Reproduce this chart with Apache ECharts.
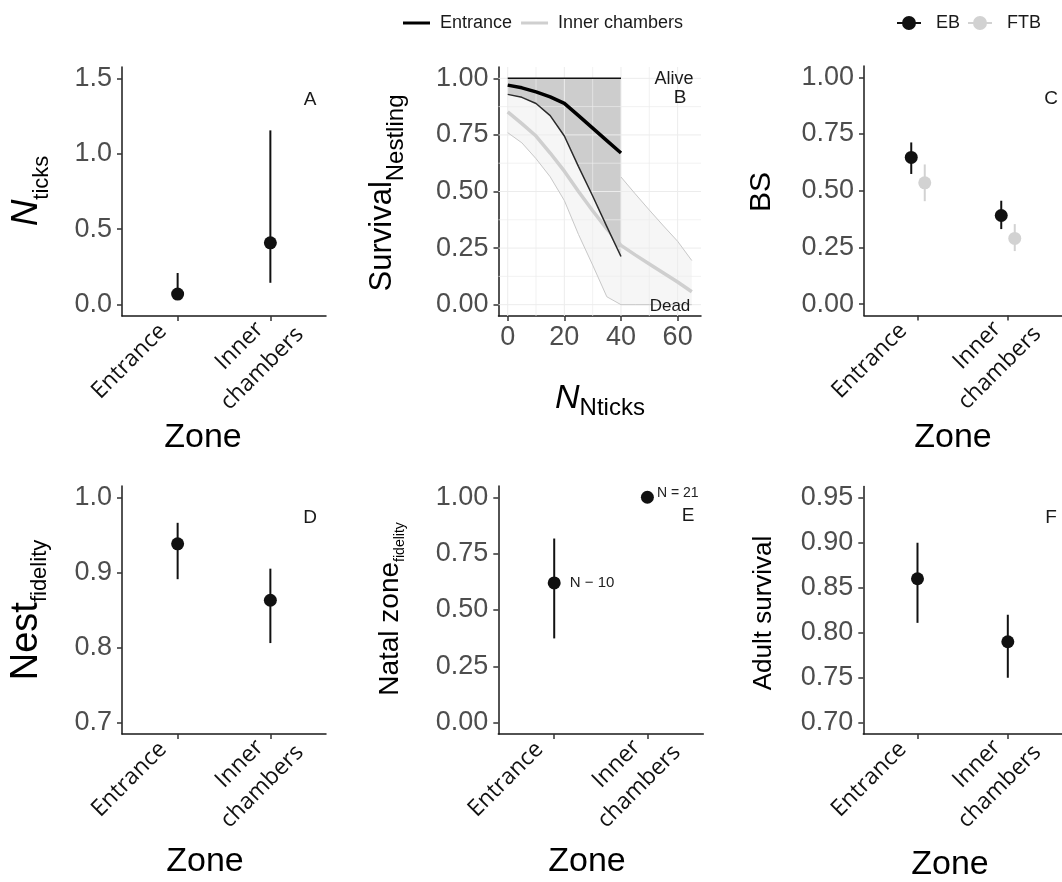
<!DOCTYPE html>
<html><head><meta charset="utf-8">
<script src="https://cdn.jsdelivr.net/npm/echarts@6/dist/echarts.min.js"></script>
<style>html,body{margin:0;padding:0;background:#fff}#c{width:1062px;height:882px}</style>
</head><body><div id="c"></div>
<script>
// ---------------- data ----------------
const zones = ['Entrance', 'Inner\nchambers'];

// A: number of ticks
const ticksMean = [0.07, 0.41];
const ticksLow  = [0.04, 0.145];
const ticksHigh = [0.21, 1.155];

// B: nestling survival vs number of ticks
const bX      = [0, 5, 10, 15, 20, 25, 30, 35, 40, 45, 50, 55, 60, 65];
const entX    = [0, 5, 10, 15, 20, 25, 30, 35, 40];
const entMean = [0.970, 0.958, 0.940, 0.918, 0.889, 0.835, 0.780, 0.725, 0.670];
const entLow  = [0.929, 0.916, 0.889, 0.835, 0.745, 0.610, 0.480, 0.345, 0.213];
const entHigh = [1, 1, 1, 1, 1, 1, 1, 1, 1];
const innMean = [0.852, 0.800, 0.745, 0.670, 0.590, 0.500, 0.415, 0.335, 0.262, 0.220, 0.180, 0.140, 0.100, 0.057];
const innLow  = [0.760, 0.715, 0.645, 0.565, 0.460, 0.310, 0.175, 0.035, 0, 0, 0, 0, 0, 0];
const innHigh = [null, null, null, null, null, null, null, null, 0.564, 0.490, 0.418, 0.348, 0.280, 0.195];

// C: breeding success
const groups   = ['EB', 'FTB'];
const bsEB     = [0.647, 0.391];
const bsEBLow  = [0.574, 0.331];
const bsEBHigh = [0.713, 0.456];
const bsFTB     = [0.535, 0.290];
const bsFTBLow  = [0.454, 0.234];
const bsFTBHigh = [0.616, 0.353];

// D: nest fidelity
const nestMean = [0.938, 0.863];
const nestLow  = [0.891, 0.806];
const nestHigh = [0.966, 0.905];

// E: natal zone fidelity
const natalMean = [0.62, 1.00];
const natalLow  = [0.374, 1.00];
const natalHigh = [0.817, 1.00];
const natalN    = ['N \u2212 10', 'N = 21'];

// F: adult survival
const adultMean = [0.86, 0.79];
const adultLow  = [0.811, 0.75];
const adultHigh = [0.90, 0.82];

// tick labels
const ticksA    = [0, 0.5, 1.0, 1.5];
const ticksProb = [0, 0.25, 0.5, 0.75, 1.0];
const ticksD    = [0.7, 0.8, 0.9, 1.0];
const ticksF    = [0.70, 0.75, 0.80, 0.85, 0.90, 0.95];
const ticksBx   = [0, 20, 40, 60];
const bGridX    = [0, 10, 20, 30, 40, 50, 60];
const bGridY    = [0, 0.125, 0.25, 0.375, 0.5, 0.625, 0.75, 0.875, 1.0];

// ---------------- helpers ----------------
const FONT = '"Liberation Sans", Arial, sans-serif';
const CATFONT = '"Open Sans", sans-serif';
const BLACK = '#111';
const LIGHT = '#d2d2d2';
const dodge = 0.075;
const bXMin = -3.25, bXMax = 68.25, bYMin = -0.05, bYMax = 1.05;

const mctx = document.createElement('canvas').getContext('2d');
function tw(t, font) { mctx.font = font; return mctx.measureText(t).width; }

const catSize = 23;
const catLines = zones.map(z => z.split('\n'));
const catBlockW = catLines.map(ls => Math.max.apply(null, ls.map(l => tw(l, catSize + 'px ' + CATFONT))));

function catX(gi) {
  return {
    gridIndex: gi, type: 'value', min: 0.4, max: 2.6,
    axisLine: {show: true, onZero: false, lineStyle: {color: '#1a1a1a', width: 1.5}},
    axisTick: {show: true, customValues: [1, 2], length: 5, lineStyle: {color: '#333', width: 1.5}},
    axisLabel: {show: true, customValues: [1, 2],
      formatter: v => {
        const i = Math.round(v) - 1;
        const body = catLines[i].map(l => '{c' + i + '|' + l + '}').join('\n');
        return catLines[i].length > 1 ? '{s| }\n' + body : body;
      },
      rich: {
        s:  {fontSize: 4, lineHeight: 35},
        c0: {fontFamily: CATFONT, fontSize: catSize, color: '#111', lineHeight: 32, width: catBlockW[0] + 29, align: 'left'},
        c1: {fontFamily: CATFONT, fontSize: catSize, color: '#111', lineHeight: 32, width: catBlockW[1], align: 'center'}
      },
      rotate: 45, margin: -14.6, padding: [16.4, 0, 0, 0]},
    splitLine: {show: false}
  };
}
function valY(gi, min, max, ticks, digits) {
  return {
    gridIndex: gi, type: 'value', min: min, max: max,
    axisLine: {show: true, onZero: false, lineStyle: {color: '#1a1a1a', width: 1.5}},
    axisTick: {show: true, customValues: ticks, length: 5, lineStyle: {color: '#333', width: 1.5}},
    axisLabel: {show: true, customValues: ticks, formatter: v => Number(v).toFixed(digits),
      fontFamily: FONT, fontSize: 27, color: '#4d4d4d', margin: 10},
    splitLine: {show: false}
  };
}
function errRender(params, api) {
  const x = api.value(0), lo = api.value(1), hi = api.value(2);
  const p1 = api.coord([x, lo]), p2 = api.coord([x, hi]);
  return {type: 'line', shape: {x1: p1[0], y1: p1[1], x2: p2[0], y2: p2[1]},
    style: {stroke: api.visual('color'), lineWidth: 2}};
}
function errSeries(gi, name, color, xs, lo, hi) {
  return {type: 'custom', name: name, xAxisIndex: gi, yAxisIndex: gi, renderItem: errRender,
    itemStyle: {color: color}, encode: {x: 0, y: [1, 2]}, z: 3,
    data: xs.map((x, i) => [x, lo[i], hi[i]])};
}
function ptSeries(gi, name, color, xs, ys, extra) {
  return Object.assign({type: 'scatter', name: name, xAxisIndex: gi, yAxisIndex: gi, symbolSize: 13,
    itemStyle: {color: color, opacity: 1}, z: 4, data: xs.map((x, i) => [x, ys[i]])}, extra || {});
}
function ribbon(xs, lo, hi, fill, z, name) {
  return {type: 'custom', name: name, xAxisIndex: 1, yAxisIndex: 1, z: z, silent: true, data: [[0, 0]],
    renderItem: function (params, api) {
      const up = [], dn = [];
      xs.forEach((x, i) => {
        up.push(api.coord([x, hi[i] == null ? 1 : hi[i]]));
        dn.push(api.coord([x, lo[i]]));
      });
      return {type: 'polygon', shape: {points: up.concat(dn.reverse())}, style: {fill: fill}};
    }};
}
function lineS(name, xs, ys, color, width, z) {
  const data = [];
  xs.forEach((x, i) => { if (ys[i] != null) data.push([x, ys[i]]); });
  return {type: 'line', name: name, xAxisIndex: 1, yAxisIndex: 1, symbol: 'none', z: z,
    lineStyle: {color: color, width: width}, itemStyle: {color: color}, data: data};
}

// axis titles with subscripts
function title(o) {
  const mf = (o.italic ? 'italic ' : '') + o.ms + 'px ' + FONT;
  const sf = o.ss + 'px ' + FONT;
  const wm = tw(o.main, mf), ws = o.sub ? tw(o.sub, sf) : 0;
  const total = wm + ws;
  const els = [];
  if (!o.vertical) {
    const x0 = o.c - total / 2;
    els.push({type: 'text', x: x0, y: o.base - 0.35 * o.ms, z: 100,
      style: {text: o.main, font: mf, fill: '#000', align: 'left', verticalAlign: 'middle'}});
    if (o.sub) els.push({type: 'text', x: x0 + wm, y: o.base + o.drop - 0.35 * o.ss, z: 100,
      style: {text: o.sub, font: sf, fill: '#000', align: 'left', verticalAlign: 'middle'}});
  } else {
    const y0 = o.c + total / 2;
    els.push({type: 'text', x: o.base - 0.35 * o.ms, y: y0, rotation: Math.PI / 2, z: 100,
      style: {text: o.main, font: mf, fill: '#000', align: 'left', verticalAlign: 'middle'}});
    if (o.sub) els.push({type: 'text', x: o.base + o.drop - 0.35 * o.ss, y: y0 - wm, rotation: Math.PI / 2, z: 100,
      style: {text: o.sub, font: sf, fill: '#000', align: 'left', verticalAlign: 'middle'}});
  }
  return els;
}
function txt(x, y, t, size, color) {
  return {type: 'text', x: x, y: y, z: 100,
    style: {text: t, font: size + 'px ' + FONT, fill: color || '#1a1a1a', align: 'center', verticalAlign: 'middle'}};
}

// ---------------- chart ----------------
const chart = echarts.init(document.getElementById('c'), null, {renderer: 'canvas'});
const catPos = [1, 2];

const graphics = [].concat(
  title({vertical: true, main: 'N', sub: 'ticks', italic: true, ms: 37, ss: 22, base: 40, drop: 10, c: 191}),
  title({vertical: true, main: 'Survival', sub: 'Nestling', ms: 31, ss: 24, base: 393, drop: 12, c: 193}),
  title({vertical: false, main: 'N', sub: 'Nticks', italic: true, ms: 34, ss: 24, base: 410, drop: 7, c: 600}),
  title({vertical: true, main: 'BS', ms: 30, base: 772, c: 192}),
  title({vertical: true, main: 'Nest', sub: 'fidelity', ms: 38, ss: 22, base: 40, drop: 8, c: 610}),
  title({vertical: true, main: 'Natal zone', sub: 'fidelity', ms: 28, ss: 14, base: 400, drop: 5, c: 609}),
  title({vertical: true, main: 'Adult survival', ms: 26, base: 773, c: 613}),
  [
    txt(203, 438, 'Zone', 34, '#000'), txt(953, 438, 'Zone', 34, '#000'),
    txt(205, 862, 'Zone', 34, '#000'), txt(587, 862, 'Zone', 34, '#000'), txt(950, 865, 'Zone', 34, '#000'),
    txt(310, 100, 'A', 19), txt(680, 98, 'B', 19), txt(1051, 99, 'C', 19),
    txt(310, 518, 'D', 19), txt(688, 516, 'E', 19), txt(1051, 518, 'F', 19),
    txt(674, 79, 'Alive', 18), txt(670, 306, 'Dead', 17)
  ]
);

const option = {
  animation: false,
  backgroundColor: '#fff',
  textStyle: {fontFamily: FONT},
  legend: [
    {left: 398, top: 9, itemWidth: 27, itemHeight: 3, itemGap: 9, selectedMode: false,
      textStyle: {fontFamily: FONT, fontSize: 18, color: '#1a1a1a', padding: [0, 0, 0, 5]},
      data: [{name: 'Entrance', icon: 'rect'}, {name: 'Inner chambers', icon: 'rect'}]},
    {left: 892, top: 9, itemWidth: 24, itemHeight: 14, itemGap: 8, selectedMode: false,
      textStyle: {fontFamily: FONT, fontSize: 18, color: '#1a1a1a', padding: [0, 0, 0, 10]},
      data: groups.map(g => ({name: g, icon: 'path://M0,6 L24,6 L24,8 L0,8 Z M12,0 A7,7 0 1,1 11.99,0 Z'}))}
  ],
  grid: [
    {left: 122, top: 67, width: 204, height: 249},
    {left: 498.5, top: 67, width: 202.5, height: 249},
    {left: 864, top: 66, width: 203, height: 249.5},
    {left: 122, top: 486, width: 204, height: 248},
    {left: 498.3, top: 486, width: 205, height: 248},
    {left: 863.3, top: 486.5, width: 203, height: 247.5}
  ],
  xAxis: [
    catX(0),
    {gridIndex: 1, type: 'value', min: bXMin, max: bXMax,
      axisLine: {show: true, onZero: false, lineStyle: {color: '#1a1a1a', width: 1.5}},
      axisTick: {show: true, customValues: ticksBx, length: 5, lineStyle: {color: '#333', width: 1.5}},
      axisLabel: {show: true, customValues: ticksBx, fontFamily: FONT, fontSize: 27, color: '#4d4d4d', margin: 8},
      splitLine: {show: false}},
    catX(2), catX(3), catX(4), catX(5)
  ],
  yAxis: [
    valY(0, -0.075, 1.575, ticksA, 1),
    valY(1, bYMin, bYMax, ticksProb, 2),
    valY(2, -0.05, 1.05, ticksProb, 2),
    valY(3, 0.685, 1.015, ticksD, 1),
    valY(4, -0.05, 1.05, ticksProb, 2),
    valY(5, 0.6875, 0.9625, ticksF, 2)
  ],
  graphic: graphics,
  series: [
    // A
    errSeries(0, 'A ci', BLACK, catPos, ticksLow, ticksHigh),
    ptSeries(0, 'A mean', BLACK, catPos, ticksMean),
    // B
    ribbon(bX, innLow, innHigh, '#f6f6f6', 1, 'Inner band'),
    ribbon(entX, entLow, entHigh, '#cdcdcd', 1.5, 'Entrance band'),
    {type: 'custom', name: 'B grid', xAxisIndex: 1, yAxisIndex: 1, z: 1.8, silent: true, data: [[0, 0]],
      renderItem: function (params, api) {
        const ch = [];
        bGridX.forEach(x => {
          const a = api.coord([x, bYMin]), b = api.coord([x, bYMax]);
          ch.push({type: 'line', shape: {x1: a[0], y1: a[1], x2: b[0], y2: b[1]},
            style: {stroke: '#ececec', lineWidth: x % 20 === 0 ? 1 : 0.7}});
        });
        bGridY.forEach((y, i) => {
          const a = api.coord([bXMin, y]), b = api.coord([bXMax, y]);
          ch.push({type: 'line', shape: {x1: a[0], y1: a[1], x2: b[0], y2: b[1]},
            style: {stroke: '#ececec', lineWidth: i % 2 === 0 ? 1 : 0.7}});
        });
        return {type: 'group', children: ch};
      }},
    lineS('Inner chambers lower', bX, innLow, '#c8c8c8', 1, 3),
    lineS('Inner chambers upper', bX, innHigh, '#c8c8c8', 1, 3),
    lineS('Entrance upper', entX, entHigh, '#111', 1.5, 3),
    lineS('Inner chambers', bX, innMean, '#cfcfcf', 3.5, 4),
    lineS('Entrance lower', entX, entLow, '#2a2a2a', 1.5, 5),
    lineS('Entrance', entX, entMean, '#000', 3.5, 6),
    // C
    errSeries(2, 'EB ci', BLACK, catPos.map(x => x - dodge), bsEBLow, bsEBHigh),
    errSeries(2, 'FTB ci', LIGHT, catPos.map(x => x + dodge), bsFTBLow, bsFTBHigh),
    ptSeries(2, 'EB', BLACK, catPos.map(x => x - dodge), bsEB),
    ptSeries(2, 'FTB', LIGHT, catPos.map(x => x + dodge), bsFTB),
    // D
    errSeries(3, 'D ci', BLACK, catPos, nestLow, nestHigh),
    ptSeries(3, 'D mean', BLACK, catPos, nestMean),
    // E
    errSeries(4, 'E ci', BLACK, catPos, natalLow, natalHigh),
    ptSeries(4, 'E mean', BLACK, catPos, natalMean, {
      label: {show: true, position: 'right', formatter: p => natalN[p.dataIndex],
        fontFamily: FONT, fontSize: 15, color: '#222'},
      labelLayout: function (p) { return p.dataIndex === 1 ? {dx: -2, dy: -4, fontSize: 14} : {dx: 4}; }
    }),
    // F
    errSeries(5, 'F ci', BLACK, catPos, adultLow, adultHigh),
    ptSeries(5, 'F mean', BLACK, catPos, adultMean)
  ]
};
chart.setOption(option);
</script>
</body></html>
